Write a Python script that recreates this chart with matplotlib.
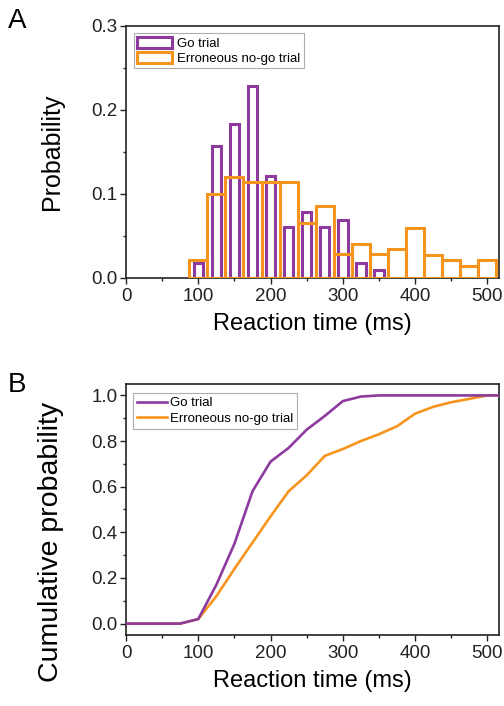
import matplotlib
matplotlib.use("Agg")
import matplotlib.pyplot as plt
from matplotlib.ticker import MultipleLocator
from matplotlib.patches import Patch
from matplotlib.lines import Line2D

plt.rcParams['font.family'] = ['Liberation Sans', 'DejaVu Sans']

# ---- Data ----
go_bins = [100, 125, 150, 175, 200, 225, 250, 275, 300, 325, 350]
go_prob = [0.018, 0.157, 0.183, 0.228, 0.122, 0.061, 0.078, 0.061, 0.069, 0.018, 0.010]

nogo_bins = [100, 125, 150, 175, 200, 225, 250, 275, 300, 325, 350, 375, 400, 425, 450, 475, 500]
nogo_prob = [0.021, 0.100, 0.120, 0.114, 0.114, 0.114, 0.066, 0.086, 0.028, 0.041,
             0.028, 0.034, 0.059, 0.027, 0.021, 0.014, 0.021]

cdf_x = [0, 25, 50, 75, 100, 125, 150, 175, 200, 225, 250, 275, 300, 325, 350,
         375, 400, 425, 450, 475, 500, 520]
go_cdf = [0, 0, 0, 0, 0.02, 0.17, 0.35, 0.58, 0.71, 0.77, 0.85, 0.91, 0.975, 0.995, 1.0,
          1.0, 1.0, 1.0, 1.0, 1.0, 1.0, 1.0]
nogo_cdf = [0, 0, 0, 0, 0.02, 0.12, 0.24, 0.355, 0.47, 0.58, 0.65, 0.735, 0.765, 0.80, 0.83,
            0.865, 0.92, 0.95, 0.97, 0.985, 1.0, 1.0]

labels = ["Go trial", "Erroneous no-go trial"]
xticks = [0, 100, 200, 300, 400, 500]

PURPLE = '#8C3A9E'
ORANGE = '#F7941E'

fig = plt.figure(figsize=(5.04, 7.06), dpi=100)
axA = fig.add_axes([126/504, 1-278/706, 373/504, 252/706])
axB = fig.add_axes([126/504, 1-635/706, 373/504, 251/706])

# ---- Panel A ----
axA.bar(go_bins, go_prob, width=13, facecolor='none', edgecolor=PURPLE, linewidth=2.2, zorder=2)
axA.bar(nogo_bins, nogo_prob, width=25, facecolor='none', edgecolor=ORANGE, linewidth=2.2, zorder=3)
axA.set_ylim(0, 0.3)
axA.set_yticks([0.0, 0.1, 0.2, 0.3])
axA.set_yticklabels(['0.0', '0.1', '0.2', '0.3'])
axA.yaxis.set_minor_locator(MultipleLocator(0.05))
axA.set_ylabel("Probability", fontsize=18)
axA.yaxis.set_label_coords(-0.165, 0.5)

handlesA = [Patch(facecolor='white', edgecolor=PURPLE, linewidth=2.2),
            Patch(facecolor='white', edgecolor=ORANGE, linewidth=2.2)]
legA = axA.legend(handlesA, labels, loc='upper left', fontsize=9.5, frameon=True,
                  fancybox=False, edgecolor='#999999', handlelength=2.6, handleheight=0.9,
                  borderpad=0.25, labelspacing=0.15, handletextpad=0.4,
                  bbox_to_anchor=(0.004, 0.997))
legA.get_frame().set_linewidth(0.8)

# ---- Panel B ----
axB.plot(cdf_x, go_cdf, color=PURPLE, linewidth=1.9, zorder=3)
axB.plot(cdf_x, nogo_cdf, color=ORANGE, linewidth=1.9, zorder=2)
axB.set_ylim(-0.05, 1.05)
axB.set_yticks([0.0, 0.2, 0.4, 0.6, 0.8, 1.0])
axB.yaxis.set_minor_locator(MultipleLocator(0.1))
axB.set_ylabel("Cumulative probability", fontsize=20.5)
axB.yaxis.set_label_coords(-0.165, 0.37)

handlesB = [Line2D([], [], color=PURPLE, linewidth=1.9),
            Line2D([], [], color=ORANGE, linewidth=1.9)]
legB = axB.legend(handlesB, labels, loc='upper left', fontsize=9.5, frameon=True,
                  fancybox=False, edgecolor='#999999', handlelength=2.3,
                  borderpad=0.3, labelspacing=0.25, handletextpad=0.2,
                  bbox_to_anchor=(0.0, 0.99))
legB.get_frame().set_linewidth(0.8)

for ax in (axA, axB):
    ax.set_xlim(0, 516)
    ax.set_xticks(xticks)
    ax.xaxis.set_minor_locator(MultipleLocator(50))
    ax.set_xlabel("Reaction time (ms)", fontsize=17, labelpad=6)
    ax.tick_params(axis='both', which='major', direction='out', length=4, width=1,
                   labelsize=13.5, pad=2, colors='#222222', labelcolor='#222222')
    ax.tick_params(axis='both', which='minor', direction='out', length=2.5, width=1,
                   colors='#222222')
    ax.tick_params(axis='x', which='major', pad=3)
    for s in ax.spines.values():
        s.set_linewidth(1.2)
        s.set_color('#222222')

fig.text(8/504, 1-28/706, "A", fontsize=20, ha='left', va='baseline')
fig.text(8/504, 1-392/706, "B", fontsize=20, ha='left', va='baseline')

fig.savefig("out.png", dpi=100)
